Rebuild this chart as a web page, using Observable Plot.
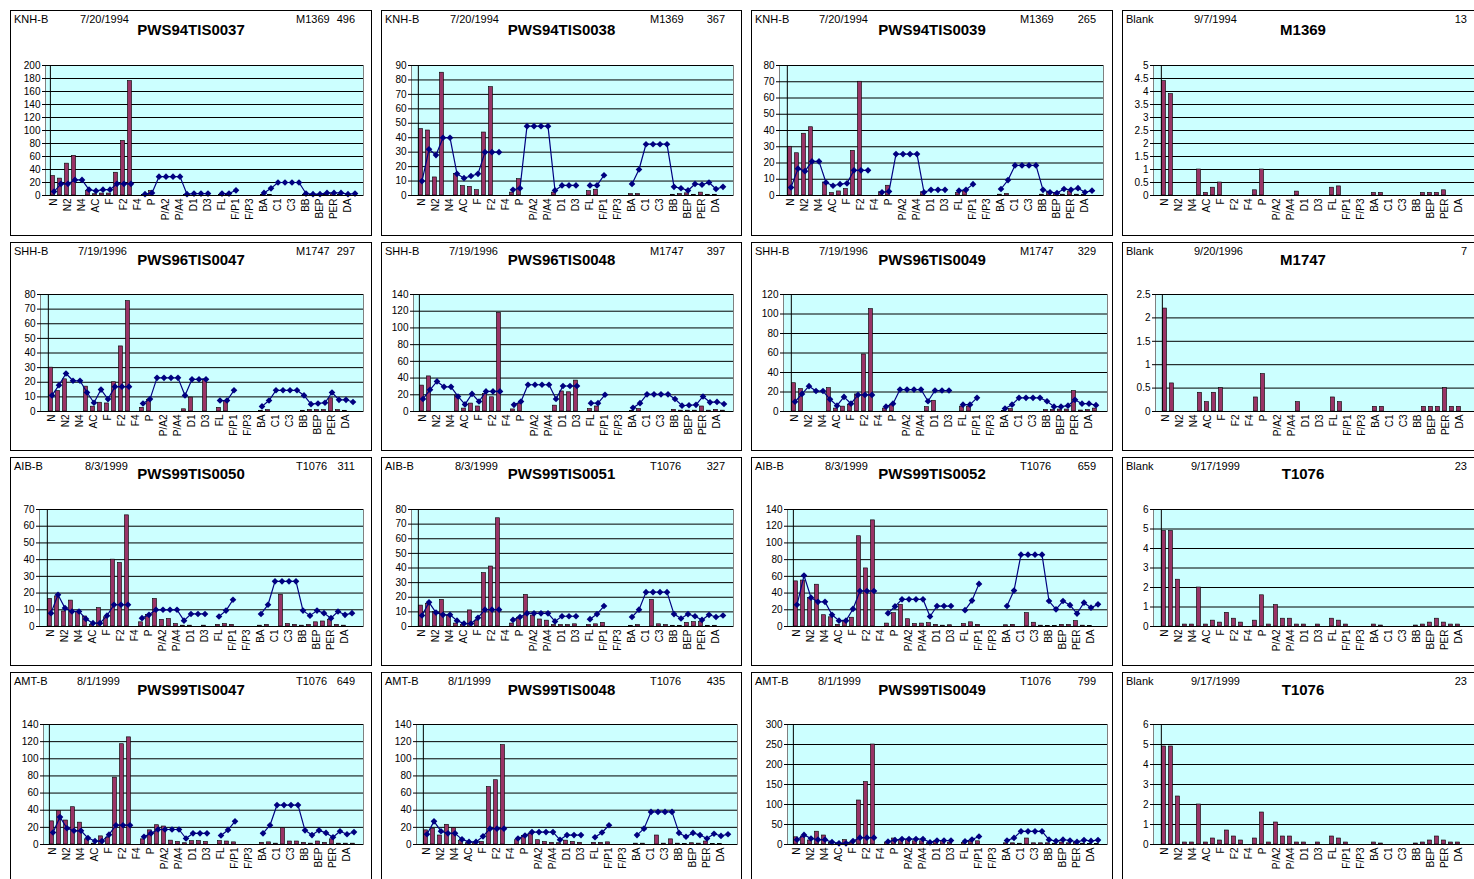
<!DOCTYPE html>
<html><head><meta charset="utf-8">
<script src="https://cdn.jsdelivr.net/npm/d3@7"></script>
<script src="https://cdn.jsdelivr.net/npm/@observablehq/plot@0.6"></script>
<style>
html,body{margin:0;padding:0;background:#fff;}
body{width:1474px;height:879px;overflow:hidden;position:relative;font-family:Arial,"Liberation Sans",sans-serif;color:#000;}
.panel{position:absolute;border:1px solid #000;box-sizing:border-box;overflow:hidden;background:#fff;}
.t{position:absolute;font-size:11px;line-height:11px;white-space:nowrap;}
.ttl{position:absolute;font-size:15px;line-height:15px;font-weight:bold;white-space:nowrap;text-align:center;left:0;right:0;}
.panel svg{position:absolute;left:0;}
</style></head><body>
<script>
// ---------- data ----------
const categories = ["N","N1","N2","N3","N4","BI","AC","AE","F","F1","F2","F3","F4","A","P","P/A1","P/A2","P/A3","P/A4","D","D1","D2","D3","D4","FL","PY","F/P1","F/P2","F/P3","F/P4","BA","C","C1","C2","C3","C4","BB","BK","BEP","BAP","PER","IP","DA","BP"];
const tickLabels = ["N","N2","N4","AC","F","F2","F4","P","P/A2","P/A4","D1","D3","FL","F/P1","F/P3","BA","C1","C3","BB","BEP","PER","DA"];

const sites   = ["KNH-B","KNH-B","KNH-B","Blank","SHH-B","SHH-B","SHH-B","Blank","AIB-B","AIB-B","AIB-B","Blank","AMT-B","AMT-B","AMT-B","Blank"];
const dates   = ["7/20/1994","7/20/1994","7/20/1994","9/7/1994","7/19/1996","7/19/1996","7/19/1996","9/20/1996","8/3/1999","8/3/1999","8/3/1999","9/17/1999","8/1/1999","8/1/1999","8/1/1999","9/17/1999"];
const titles  = ["PWS94TIS0037","PWS94TIS0038","PWS94TIS0039","M1369","PWS96TIS0047","PWS96TIS0048","PWS96TIS0049","M1747","PWS99TIS0050","PWS99TIS0051","PWS99TIS0052","T1076","PWS99TIS0047","PWS99TIS0048","PWS99TIS0049","T1076"];
const batches = ["M1369","M1369","M1369","","M1747","M1747","M1747","","T1076","T1076","T1076","","T1076","T1076","T1076",""];
const counts  = ["496","367","265","13","297","397","329","7","311","327","659","23","649","435","799","23"];
const yMax  = [200,90,80,5, 80,140,120,2.5, 70,80,140,6, 140,140,300,6];
const yStep = [20,10,10,0.5, 10,20,20,0.5, 10,10,20,1, 20,20,50,1];

const v0037 = [30,26,49,61,0,7,2,3,3,35,84,176,0,1,7,0,0,0,0,1,0,0,0,0,1,1,0,0,0,0,1,1,0,0,0,0,1,1,1,1,2,1,0,0];
const d0037 = [6,18,18,24,24,9,7,9,9,18,18,18,null,2,4,29,29,29,29,2,3,3,3,null,3,3,8,null,null,null,4,11,20,20,20,20,3,2,2,4,4,4,2,3];
const v0038 = [46,45,12.5,85,0,15,6.5,6,3.7,43.6,75,0,0,2,11.3,0,0,0,0,2,0,0,0,0,3,4,0,0,0,0,1,1,0,0,0,0,0.5,1,1.5,0.5,2,0.5,0.5,0];
const d0038 = [10,32,28,40,40,15,12,13.5,15,30,30,30,null,4,5,48,48,48,48,3.5,7,7,7,null,7,7,14,null,null,null,8,18,35.5,35.5,35.5,35.5,6,5,3.5,8,7.5,9,4.5,6];
const v0039 = [30,26,38,42,0,8,1.5,2.5,4,27.5,70,0,0,2,6,0,0,0,0,2,0,0,0,0,1.5,2.5,0,0,0,0,0.5,1,0,0,0,0,0.5,2,1.5,0.5,2.5,0.5,0.5,0];
const d0039 = [5,16.5,15,21,21,8,6,7,7.5,15.5,15.5,15.5,null,2,2.5,25.5,25.5,25.5,25.5,2,3.5,3.5,3.5,null,3,3.5,7,null,null,null,4,9.5,18.5,18.5,18.5,18.5,3.5,2,1.5,4,3.5,4.5,2,3];
const vM1369 = [4.4,3.9,0,0,0,1.0,0.1,0.3,0.5,0,0,0,0,0.2,1.0,0,0,0,0,0.15,0,0,0,0,0.3,0.35,0,0,0,0,0.1,0.1,0,0,0,0,0,0.1,0.1,0.1,0.2,0,0,0];

const v96_0047 = [30,14,22,0,0,17,3.3,6,5.5,20,44.5,75.5,0,2.5,8,0,0,0,0,1.5,9.5,0,22,0,2.5,7,0,0,0,0,0.5,1,0,0,0,0,0.5,1,1,1,9,1,0.5,0];
const d96_0047 = [11,18,26,21,21,13,6,15,8.5,17,17,17,null,5.5,8.5,23,23,23,23,11,22,22,22,null,7.5,7.5,14.5,null,null,null,3.5,7.5,14.5,14.5,14.5,14.5,11,5,5.5,6,13,8,8,6.5];
const v96_0048 = [31,42,0,0,0,19,3.5,9.5,6,21,17,118,0,2.5,9,0,0,0,0,7,24,23,37,0,3,6,0,0,0,0,0.5,3,0,0,0,0,2,1,1,1,6,1,2,1];
const d96_0048 = [15,26,36,29.5,29.5,18,8.5,21,12,24,24,24,null,8,12,32,32,32,32,15,30.5,30.5,30.5,null,10,10,20,null,null,null,4.5,10,20.5,20.5,20.5,20.5,15,7,7.5,8,18,11,11.5,9];
const v96_0049 = [29,23,0,0,0,24,3,5,7,17.5,58.5,105,0,3,7,0,0,0,0,4.5,11,0,0,0,5,5,0,0,0,0,0.5,2.5,0,0,0,0,1.5,1.5,2,2,21,1,1.5,3];
const d96_0049 = [10,18,26,21,21,12.5,6,15,8,17,17,17,null,5,8,22.5,22.5,22.5,22.5,10.5,21.5,21.5,21.5,null,7,7,14,null,null,null,3,7,14,14,14,14,10.5,5,5,6,12,8,8,6.5];
const vM1747 = [2.2,0.6,0,0,0,0.4,0.2,0.4,0.5,0,0,0,0,0.3,0.8,0,0,0,0,0.2,0,0,0,0,0.3,0.2,0,0,0,0,0.1,0.1,0,0,0,0,0,0.1,0.1,0.1,0.5,0.1,0.1,0];

const v99_0050 = [16.5,18,9,15.5,8.5,6,1,11,5.5,40,38,66.5,0,2.5,7,16.5,4,4.5,1.5,0.5,0.5,0,0.5,0,1,1.5,1,0,0,0,0.5,1,0,19,1.5,1,0.5,1,2.5,3,4,1,0.5,0];
const d99_0050 = [8,19,11,9,9,4.5,2,2,6.5,13,13,13,null,5,7,10,10,10,10,3.5,7.5,7.5,7.5,null,6,9.5,16,null,null,null,7.5,13,27,27,27,27,9.5,6.5,9.5,8,5,9,7,8];
const v99_0051 = [14.3,15.5,10,18.2,7.5,2,1,11,4,36.5,41,74,0,2,6,21.6,7.5,4.8,4,1,1,1,1.5,0,1,1.5,2.5,0,0,0,0.5,1,0,18.2,1.5,1,0.5,0.5,2.5,3,3,0.5,0.5,0];
const d99_0051 = [7.5,16.5,9.5,8,8,4,2,2,6,11.5,11.5,11.5,null,4.5,6.5,9,9,9,9,3.5,7,7,7,null,5,8.5,14,null,null,null,6.5,11.5,23.5,23.5,23.5,23.5,8.5,5.5,8.5,7,4.5,8,6.5,7.5];
const v99_0052 = [54,55,34,50,13.5,11,2,7,10.5,108,69.5,127,0,3.5,16,26,8.7,3,3.5,4,2,1,1.5,0,3,5,2,0,0,0,1.5,2,0,16,4.5,1,0.5,0.5,2,2,6.5,1,0.5,0];
const d99_0052 = [26,61,34.5,29.5,29.5,14,7,7,21,42.5,42.5,42.5,null,16,24,32.5,32.5,32.5,32.5,12,24.5,24.5,24.5,null,19.5,31,51,null,null,null,24.5,43,86,86,86,86,30.5,20.5,30.5,25.5,15.5,28.5,22.5,26.5];
const vT1076 = [4.9,4.9,2.4,0.1,0.1,2.0,0.1,0.3,0.2,0.7,0.4,0.2,0,0.3,1.6,0.1,1.1,0.4,0.4,0.1,0.1,0,0.1,0,0.4,0.3,0.1,0,0,0,0.1,0.05,0,0,0,0,0.05,0.1,0.2,0.4,0.2,0.1,0.1,0];

const v99_0047 = [27,39,28,43.5,25.5,6,1,9.5,8,78,117,125,0,6,16.5,22.5,21,4.5,3,1.5,4,4,3,0,4,3.5,2.5,0,0,0,2,2.5,1,19,3.5,3.5,2,1,3.5,2,6,1,1,1];
const d99_0047 = [14,32,19,16,16,7.5,4,4,11.5,22.5,22.5,22.5,null,9,13,17.5,17.5,17.5,17.5,7,13,13,13,null,10.5,17,27,null,null,null,13,22.5,46,46,46,46,16.5,11,16.5,13.5,8.5,15.5,12,14.5];
const v99_0048 = [16.5,18.5,10.5,23,19,4,1.5,1.5,3,67,75,116,0,5,10,13,5,3,2,1.5,4.5,3,2,0,2,2,2.5,0,0,0,1,1,0,10.5,1,6,1,0.5,1.5,1,3.5,0.5,0.5,0];
const d99_0048 = [12,27,15.5,13,13,6,3,3,9.5,18.5,18.5,18.5,null,7,10.5,14.5,14.5,14.5,14.5,5.5,11,11,11,null,8.5,14,22.5,null,null,null,11,18.5,38,38,38,38,13.5,9,13.5,11,7,12.5,10,12];
const v99_0049 = [18,20,10,32,22.5,5,2,11,5,110,156,250,0,5,15,12,12,8,8,3,8,8,5,0,4,7,8,0,0,0,3,3,2,15,3,3,3,2,5,3,4,2,1,1];
const d99_0049 = [12,24,15,12,12,6,3,3,8.5,17,17,17,null,7,11,13.5,13.5,13.5,13.5,5.5,10,10,10,null,8,12.5,20,null,null,null,10,16.5,33,33,33,33,12,8.5,12,10,6.5,11,9,11];

const barSeries  = [v0037,v0038,v0039,vM1369, v96_0047,v96_0048,v96_0049,vM1747, v99_0050,v99_0051,v99_0052,vT1076, v99_0047,v99_0048,v99_0049,vT1076];
const lineSeries = [d0037,d0038,d0039,null, d96_0047,d96_0048,d96_0049,null, d99_0050,d99_0051,d99_0052,null, d99_0047,d99_0048,d99_0049,null];

// ---------- layout ----------
const panelLeft = [10,381,751,1122], panelWidth = [362,361,362,362];
const panelTop = [10,242,457,672], panelHeight = [226,209,209,216];
const plotLeft  = [45,411,779,1153, 40,413,783,1155, 39,411,787,1153, 43,416,787,1153];
const plotRight = [363,733,1103,1476, 363,733,1107,1476, 363,733,1107,1476, 363,737,1107,1476];
const plotTop = [65,294,509,724], plotBottom = [195,411,626,844];
const dateLeft = [69,68,67,71, 67,67,67,71, 74,73,73,68, 66,66,66,68];
const batchLeft = [285,268,268,0];
const titleTop = [11,9,8,9];
const svgTopRel = 38;

const FONT = "Arial, 'Liberation Sans', sans-serif";

function addText(parent, cls, txt, css) {
  const s = document.createElement("div");
  s.className = cls; s.textContent = txt;
  Object.assign(s.style, css);
  parent.appendChild(s);
  return s;
}

for (let k = 0; k < 16; k++) {
  const r = Math.floor(k / 4), c = k % 4;
  const pl = panelLeft[c], pt = panelTop[r], pw = panelWidth[c], ph = panelHeight[r];
  const div = document.createElement("div");
  div.className = "panel";
  Object.assign(div.style, {left: pl + "px", top: pt + "px", width: pw + "px", height: ph + "px"});
  document.body.appendChild(div);

  addText(div, "t", sites[k], {left: "3px", top: "3px"});
  addText(div, "t", dates[k], {left: dateLeft[k] + "px", top: "3px"});
  if (batches[k]) addText(div, "t", batches[k], {left: batchLeft[c] + "px", top: "3px"});
  addText(div, "t", counts[k], {right: "16px", top: "3px"});
  addText(div, "ttl", titles[k], {top: titleTop[r] + "px"});

  const W = pw - 2;
  const ml = plotLeft[k] - (pl + 1);
  const mr = W - (plotRight[k] - (pl + 1));
  const mt = plotTop[r] - (pt + 1 + svgTopRel);
  const plotH = plotBottom[r] - plotTop[r];
  const mb = ph - 2 - svgTopRel - mt - plotH;
  const H = mt + plotH + mb;
  const vals = barSeries[k], mdl = lineSeries[k];
  const rows = categories.map((cat, i) => ({cat, v: vals[i], m: mdl ? mdl[i] : null}));
  const bw = (W - ml - mr) / categories.length;
  const ticks = d3.range(0, yMax[k] + yStep[k] / 2, yStep[k]).map(d => +d.toFixed(3));

  const marks = [
    Plot.frame({fill: "#ccffff", stroke: "#808080"}),
    Plot.ruleY(ticks.slice(1), {stroke: "#000", strokeWidth: 1}),
    Plot.barY(rows.filter(d => d.v > 0), {x: "cat", y: "v", fill: "#993366", stroke: "#000", strokeWidth: 0.6, insetLeft: bw * 0.06, insetRight: bw * 0.34}),
  ];
  if (mdl) {
    marks.push(Plot.line(rows, {x: "cat", y: "m", stroke: "#000080", strokeWidth: 1.2}));
    marks.push(Plot.dot(rows, {x: "cat", y: "m", symbol: "diamond2", fill: "#000080", stroke: "none", r: 3}));
  }
  marks.push(
    Plot.ruleY([0], {stroke: "#000"}),
    Plot.ruleX([categories[0]], {stroke: "#000", dx: -bw / 2}),
    Plot.axisY({ticks, tickFormat: d => String(d), tickSize: 3, tickPadding: 2, label: null}),
    Plot.axisX({ticks: tickLabels, tickRotate: -90, tickSize: 0, tickPadding: 3, label: null})
  );

  const chart = Plot.plot({
    width: W, height: H,
    marginLeft: ml, marginRight: mr, marginTop: mt, marginBottom: mb,
    style: {fontFamily: FONT, fontSize: "10px", color: "#000", background: "none", overflow: "visible"},
    x: {type: "band", domain: categories, padding: 0},
    y: {domain: [0, yMax[k]]},
    marks
  });
  chart.style.top = svgTopRel + "px";
  div.appendChild(chart);
}
</script>
</body></html>
